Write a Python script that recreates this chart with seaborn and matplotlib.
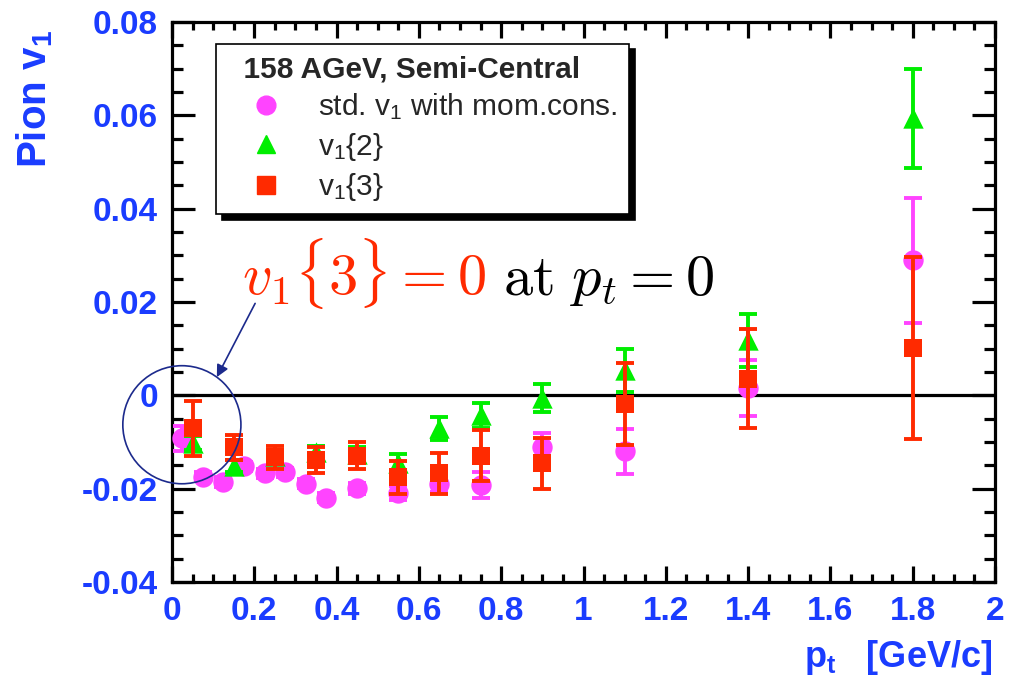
import matplotlib
matplotlib.use("Agg")
import matplotlib.pyplot as plt
import seaborn as sns
from matplotlib.lines import Line2D
from matplotlib.patches import Ellipse
from matplotlib.ticker import MultipleLocator, FuncFormatter

# --- data (pions, 158 AGeV, semi-central) ---
pt_std = [0.025, 0.075, 0.125, 0.175, 0.225, 0.275, 0.325, 0.375,
          0.45, 0.55, 0.65, 0.75, 0.9, 1.1, 1.4, 1.8]
v1_std = [-0.0092, -0.0174, -0.0186, -0.0152, -0.0167, -0.0165, -0.0189, -0.0219,
          -0.0199, -0.0210, -0.0189, -0.0193, -0.0111, -0.0120, 0.0015, 0.0289]
err_std = [0.0027, 0.0010, 0.0010, 0.0010, 0.0010, 0.0010, 0.0010, 0.0010,
           0.0012, 0.0015, 0.0018, 0.0028, 0.0030, 0.0048, 0.0060, 0.0133]

pt_cum = [0.05, 0.15, 0.25, 0.35, 0.45, 0.55, 0.65, 0.75, 0.9, 1.1, 1.4, 1.8]
v1_2 = [-0.0103, -0.0152, -0.0130, -0.0122, -0.0125, -0.0144, -0.0071, -0.0043,
        -0.0006, 0.0054, 0.0118, 0.0594]
err_2 = [0.0015, 0.0013, 0.0013, 0.0014, 0.0015, 0.0018, 0.0025, 0.0026,
         0.0030, 0.0046, 0.0057, 0.0106]
v1_3 = [-0.0071, -0.0111, -0.0133, -0.0139, -0.0129, -0.0176, -0.0167, -0.0129,
        -0.0146, -0.0019, 0.0036, 0.0101]
err_3 = [0.0059, 0.0027, 0.0025, 0.0028, 0.0029, 0.0035, 0.0044, 0.0055,
         0.0055, 0.0088, 0.0107, 0.0195]

labels = ["std. $\\mathregular{v_1}$ with mom.cons.",
          "$\\mathregular{v_1}${2}",
          "$\\mathregular{v_1}${3}"]

BLUE = "#1a3cff"
PINK = "#ff44ff"
GREEN = "#00ee00"
RED = "#ff2a00"
NAVY = "#1c2a8c"

sns.set_theme(style="ticks")
plt.rcParams["font.family"] = ["Liberation Sans", "DejaVu Sans"]
plt.rcParams["font.weight"] = "bold"
plt.rcParams["axes.linewidth"] = 2.3

fig = plt.figure(figsize=(10.11, 6.75), dpi=100)
ax = fig.add_axes([172 / 1011, 1 - 582 / 675, 823 / 1011, 560 / 675])

series = [
    (pt_std, v1_std, err_std, PINK, "o", 215),
    (pt_cum, v1_2, err_2, GREEN, "^", 215),
    (pt_cum, v1_3, err_3, RED, "s", 180),
]
for i, (x, y, e, col, mk, s) in enumerate(series):
    z = 3 + 2 * i
    ax.errorbar(x, y, yerr=e, fmt="none", ecolor=col, elinewidth=2.8,
                capsize=6.5, capthick=2.8, zorder=z)
    sns.scatterplot(x=x, y=y, color=col, marker=mk, s=s, linewidth=0,
                    ax=ax, zorder=z + 1, legend=False)

ax.axhline(0, color="black", lw=2.3, zorder=2)

ax.set_xlim(0, 2)
ax.set_ylim(-0.04, 0.08)
ax.xaxis.set_major_locator(MultipleLocator(0.2))
ax.xaxis.set_minor_locator(MultipleLocator(0.05))
ax.yaxis.set_major_locator(MultipleLocator(0.02))
ax.yaxis.set_minor_locator(MultipleLocator(0.005))
ax.xaxis.set_major_formatter(FuncFormatter(lambda v, p: f"{v:g}"))
ax.yaxis.set_major_formatter(FuncFormatter(lambda v, p: "0" if abs(v) < 1e-9 else f"{v:.2f}"))

ax.tick_params(which="both", direction="in", top=True, right=True,
               width=2.3, color="black", labelcolor=BLUE, labelsize=24)
ax.tick_params(axis="x", which="major", length=11.5, pad=10)
ax.tick_params(axis="x", which="minor", length=6)
ax.tick_params(axis="y", which="major", length=16.5, pad=10)
ax.tick_params(axis="y", which="minor", length=8)
for sp in ax.spines.values():
    sp.set_visible(True)
    sp.set_color("black")

ax.set_xlabel("$\\mathregular{p_t}$   [GeV/c]", loc="right", color=BLUE, fontsize=26,
              fontweight="bold")
ax.xaxis.set_label_coords(0.997, -0.1)
ax.set_ylabel("Pion $\\mathregular{v_1}$", loc="top", color=BLUE, fontsize=29,
              fontweight="bold")
ax.yaxis.set_label_coords(-0.142, 0.986)

# legend
handles = [Line2D([], [], ls="none", marker=mk, color=col, ms=13.5 if mk != "s" else 13)
           for (_, _, _, col, mk, _) in series]
leg = ax.legend(handles, labels, title="  158 AGeV, Semi-Central", loc="upper left",
                bbox_to_anchor=(0.0535, 0.961), borderaxespad=0, alignment="left",
                prop={"size": 21.5, "weight": "normal"},
                title_fontproperties={"size": 21.5, "weight": "bold"},
                frameon=True, fancybox=False, framealpha=1, edgecolor="black",
                handlelength=2.6, handletextpad=0.45, labelspacing=0.28,
                borderpad=0.38,
                shadow={"ox": 4, "oy": -4, "facecolor": "black", "edgecolor": "black", "alpha": 1})
leg.get_frame().set_linewidth(1.2)
leg.set_zorder(10)

# annotation: circle + arrow + text
circ = Ellipse((0.024, -0.0063), width=0.287, height=0.0253, fill=False,
               edgecolor=NAVY, lw=1.2, clip_on=False, zorder=9)
ax.add_patch(circ)
ax.annotate("", xy=(0.109, 0.0039), xytext=(0.202, 0.0197),
            arrowprops=dict(arrowstyle="-|>", color=NAVY, lw=1.2,
                            mutation_scale=18, shrinkA=0, shrinkB=0), zorder=9)

t1 = ax.text(0.170, 0.0216, r"$v_1\{3\} = 0$", color=RED, fontsize=42,
             math_fontfamily="cm", ha="left", va="baseline", zorder=9)
fig.canvas.draw()
bb = t1.get_window_extent()
x_end = ax.transData.inverted().transform((bb.x1, bb.y0))[0]
ax.text(x_end, 0.0216, r"$\ \mathrm{at}\ p_t = 0$", color="black", fontsize=42,
        math_fontfamily="cm", ha="left", va="baseline", zorder=9)

fig.savefig("out.png", dpi=100)
